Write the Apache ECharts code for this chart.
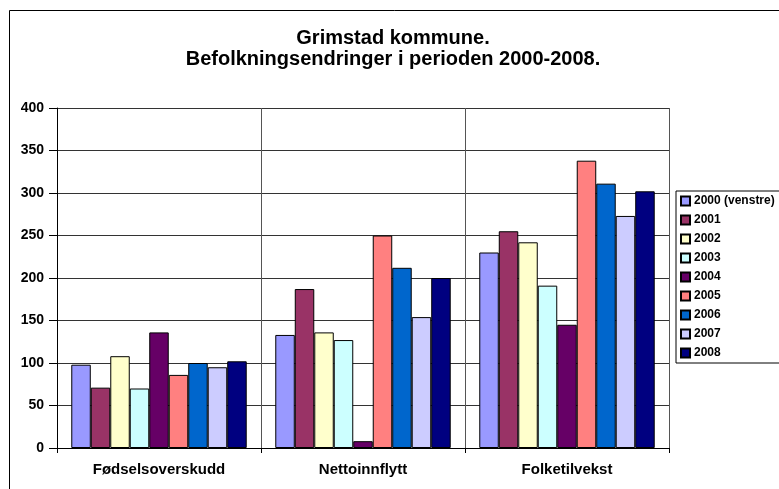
<!DOCTYPE html>
<html>
<head>
<meta charset="utf-8">
<script src="https://cdn.jsdelivr.net/npm/echarts@6/dist/echarts.min.js"></script>
<style>
html, body { margin: 0; padding: 0; background: #fff; }
#chart { width: 779px; height: 489px; }
</style>
</head>
<body>
<div id="chart"></div>
<script>
// data
var categories = ['Fødselsoverskudd', 'Nettoinnflytt', 'Folketilvekst']
var years = ['2000 (venstre)', '2001', '2002', '2003', '2004', '2005', '2006', '2007', '2008']
var colors = ['#9999FF', '#993366', '#FFFFCC', '#CCFFFF', '#660066', '#FF8080', '#0066CC', '#CCCCFF', '#000080']
var v2000 = [98, 133, 230]
var v2001 = [71, 187, 255]
var v2002 = [108, 136, 242]
var v2003 = [70, 127, 191]
var v2004 = [136, 8, 145]
var v2005 = [86, 250, 338]
var v2006 = [100, 212, 311]
var v2007 = [95, 154, 273]
var v2008 = [102, 200, 302]
var values = [v2000, v2001, v2002, v2003, v2004, v2005, v2006, v2007, v2008]

var chart = echarts.init(document.getElementById('chart'))
var font = 'Liberation Sans, Arial, sans-serif'

chart.setOption({
  animation: false,
  color: colors,
  textStyle: { fontFamily: font },
  title: {
    text: 'Grimstad kommune.\nBefolkningsendringer i perioden 2000-2008.',
    left: 388,
    textAlign: 'center',
    top: 23,
    textStyle: { fontSize: 20, fontWeight: 'bold', color: '#000', lineHeight: 21, fontFamily: font }
  },
  legend: {
    orient: 'vertical',
    left: 676,
    top: 191,
    padding: [4, 20, 4, 4],
    icon: 'rect',
    itemWidth: 9,
    itemHeight: 9,
    itemGap: 7,
    borderColor: '#000',
    borderWidth: 1,
    backgroundColor: '#fff',
    textStyle: { fontSize: 12, fontWeight: 'bold', color: '#000', padding: [0, 0, 0, -1] },
    data: years
  },
  grid: { left: 57, right: 110, top: 108, bottom: 41 },
  xAxis: {
    type: 'category',
    data: categories,
    axisLine: { lineStyle: { color: '#000' } },
    axisTick: { show: true, length: 5, lineStyle: { color: '#000' } },
    splitLine: { show: true, lineStyle: { color: '#555' } },
    axisLabel: { fontSize: 15, fontWeight: 'bold', color: '#000', margin: 14 }
  },
  yAxis: {
    type: 'value',
    min: 0,
    max: 400,
    interval: 50,
    axisLine: { show: true, lineStyle: { color: '#000' } },
    axisTick: { show: true, length: 8, lineStyle: { color: '#000' } },
    splitLine: { show: true, lineStyle: { color: '#333' } },
    axisLabel: { fontSize: 14, fontWeight: 'bold', color: '#000', margin: 13 }
  },
  series: values.map(function (d, i) {
    return {
      name: years[i],
      type: 'bar',
      data: d,
      barGap: '0%',
      barCategoryGap: '14%',
      itemStyle: { borderColor: '#000', borderWidth: 1 }
    }
  }),
  graphic: [{
    type: 'rect',
    shape: { x: 9.5, y: 10.5, width: 900, height: 600 },
    style: { fill: null, stroke: '#000', lineWidth: 1 },
    silent: true
  }]
})
</script>
</body>
</html>
